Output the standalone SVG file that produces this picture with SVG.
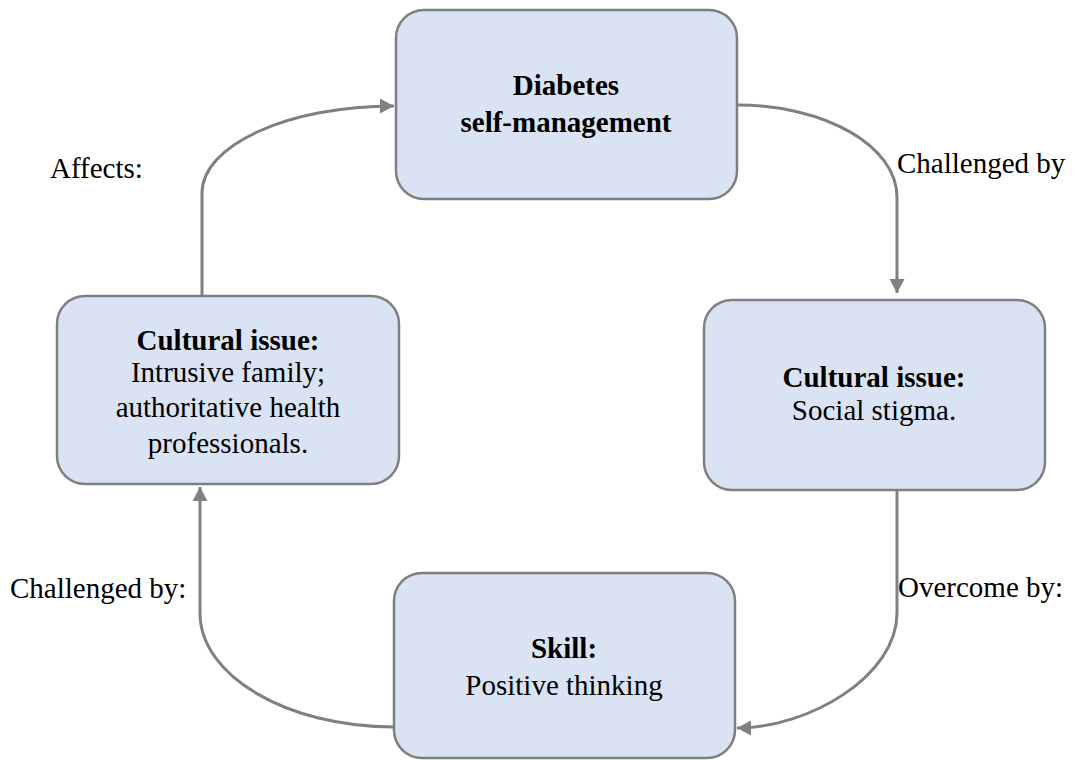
<svg xmlns="http://www.w3.org/2000/svg" width="1074" height="760" viewBox="0 0 1074 760">
<defs>
<style>
.box{fill:#dae3f3;stroke:#7f7f7f;stroke-width:2.5}
.t{font-family:"Liberation Serif","Times New Roman",serif;font-size:29px;fill:#000}
.b{font-weight:bold}
.m{text-anchor:middle}
.c{fill:none;stroke:#808080;stroke-width:3}
</style>
<marker id="ah" markerUnits="userSpaceOnUse" markerWidth="16" markerHeight="16" refX="14" refY="8" orient="auto">
<path d="M0,0.5 L14,8 L0,15.5 Z" fill="#808080"/>
</marker>
</defs>
<rect width="1074" height="760" fill="#fff"/>
<g id="connectors">
<path class="c" marker-end="url(#ah)" d="M737,105 C825,105 897,146 897,197 L897,293"/>
<path class="c" marker-end="url(#ah)" d="M897,490 L897,613 C897,676 809,728 737,728"/>
<path class="c" marker-end="url(#ah)" d="M394,727 C287,727 200,676 200,613 L200,487"/>
<path class="c" marker-end="url(#ah)" d="M202,296 L202,193 C202,145 288,106 394,106"/>
</g>
<g id="n-top">
<rect class="box" x="396" y="10" width="341" height="189" rx="28"/>
<text class="t b m" x="566" y="95">Diabetes</text>
<text class="t b m" x="566" y="132">self-management</text>
</g>
<g id="n-right">
<rect class="box" x="704" y="300" width="341" height="190" rx="28"/>
<text class="t b m" x="874" y="387">Cultural issue:</text>
<text class="t m" x="874" y="420">Social stigma.</text>
</g>
<g id="n-bottom">
<rect class="box" x="394" y="573" width="341" height="185" rx="28"/>
<text class="t b m" x="564" y="658">Skill:</text>
<text class="t m" x="564" y="695">Positive thinking</text>
</g>
<g id="n-left">
<rect class="box" x="57" y="296" width="342" height="188" rx="28"/>
<text class="t b m" x="228" y="350">Cultural issue:</text>
<text class="t m" x="228" y="382">Intrusive family;</text>
<text class="t m" x="228" y="417">authoritative health</text>
<text class="t m" x="228" y="453">professionals.</text>
</g>
<g id="labels">
<text class="t" x="50" y="178">Affects:</text>
<text class="t" x="897" y="173">Challenged by</text>
<text class="t" x="898" y="597">Overcome by:</text>
<text class="t" x="10" y="598">Challenged by:</text>
</g>
</svg>
